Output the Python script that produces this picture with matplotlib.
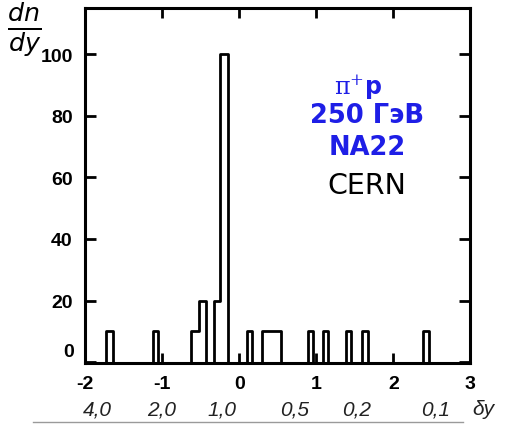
import matplotlib

matplotlib.use("Agg")
import matplotlib.pyplot as plt
import matplotlib.transforms as mtransforms
from matplotlib.patches import Rectangle

# histogram groups: bin edges and counts (dn/dy) for each contiguous block
hist_edges = [
    [-1.734, -1.643],
    [-1.127, -1.056],
    [-0.634, -0.523, -0.432],
    [-0.329, -0.250, -0.147],
    [0.095, 0.165],
    [0.290, 0.535],
    [0.890, 0.950],
    [1.080, 1.150],
    [1.390, 1.450],
    [1.590, 1.665],
    [2.385, 2.457],
]
hist_counts = [[10], [10], [10, 20], [20, 100], [10], [10], [10], [10], [10], [10], [10]]

x_ticks = [-2, -1, 0, 1, 2, 3]
y_ticks = [0, 20, 40, 60, 80, 100]

# second (delta y) scale printed under the axis
dy_labels = ["4,0", "2,0", "1,0", "0,5", "0,2", "0,1", "δy"]
dy_tick_at = [-1.848, -1.004, -0.225, 0.723, 1.516, 2.542, 3.166]

BLUE = "#1e1ee6"
NUM_FONT = ["Liberation Sans", "DejaVu Sans"]

fig = plt.figure(figsize=(5.08, 4.27), dpi=100)
ax = fig.add_axes([0.168, 0.1473, 0.758, 0.8317])

for edges, counts in zip(hist_edges, hist_counts):
    st = ax.stairs(counts, edges, baseline=0, fill=False, color="black", linewidth=2.0)
    st.set_joinstyle("round")

ax.set_xlim(-2, 3)
ax.set_ylim(-0.3, 115)

for side in ["left", "right", "top", "bottom"]:
    ax.spines[side].set_linewidth(2.2)

ax.set_xticks(x_ticks)
ax.set_xticklabels([str(v) for v in x_ticks], fontsize=14, fontweight="bold", family=NUM_FONT)
ax.set_yticks(y_ticks)
ax.set_yticklabels([""] + [str(v) for v in y_ticks[1:]], fontsize=14, fontweight="bold", family=NUM_FONT)
ax.tick_params(axis="y", direction="in", length=8, width=2.0, right=True, pad=9)
ax.tick_params(axis="x", direction="in", length=7, width=2.0, top=True, pad=8.5)

# the "0" label sits a little above its tick in the original
ax.text(-0.03, 3.5, "0", transform=mtransforms.blended_transform_factory(ax.transAxes, ax.transData),
        ha="right", va="center", fontsize=14, fontweight="bold", family=NUM_FONT)

# the scan cuts off the lower half of the x tick labels
fig.add_artist(Rectangle((60 / 508, 1 - 400 / 427), 440 / 508, 9 / 427, transform=fig.transFigure,
                         facecolor="white", edgecolor="none", zorder=10))

# delta-y scale labels
trans = mtransforms.blended_transform_factory(ax.transData, ax.transAxes)
for lab, xv in zip(dy_labels, dy_tick_at):
    ax.text(xv, -0.129, lab, transform=trans, ha="center", va="center", fontsize=15,
            style="italic", family=["Liberation Sans", "DejaVu Sans"], color="#222222",
            clip_on=False, zorder=11)

# axis label dn/dy in the corner
fig.text(24 / 508, 1 - 30 / 427, r"$\frac{dn}{dy}$", fontsize=26, ha="center", va="center")

# annotation block
fig.text(358 / 508, 1 - 87 / 427, r"$\mathrm{\pi}^{+}$p", fontsize=17, fontweight="bold", color=BLUE,
         ha="center", va="center", math_fontfamily="dejavuserif")
fig.text(367 / 508, 1 - 116 / 427, "250 ГэВ", fontsize=18.5, fontweight="bold", color=BLUE,
         ha="center", va="center")
fig.text(367 / 508, 1 - 148 / 427, "NA22", fontsize=18.5, fontweight="bold", color=BLUE,
         ha="center", va="center")
fig.text(367 / 508, 1 - 186 / 427, "CERN", fontsize=20.5, color="black", ha="center", va="center")

# faint line at the bottom edge of the scan
fig.add_artist(plt.Line2D([33 / 508, 463 / 508], [1 - 423 / 427] * 2, color="#9a9a9a", linewidth=1.0))

fig.savefig("out.png", dpi=100)
